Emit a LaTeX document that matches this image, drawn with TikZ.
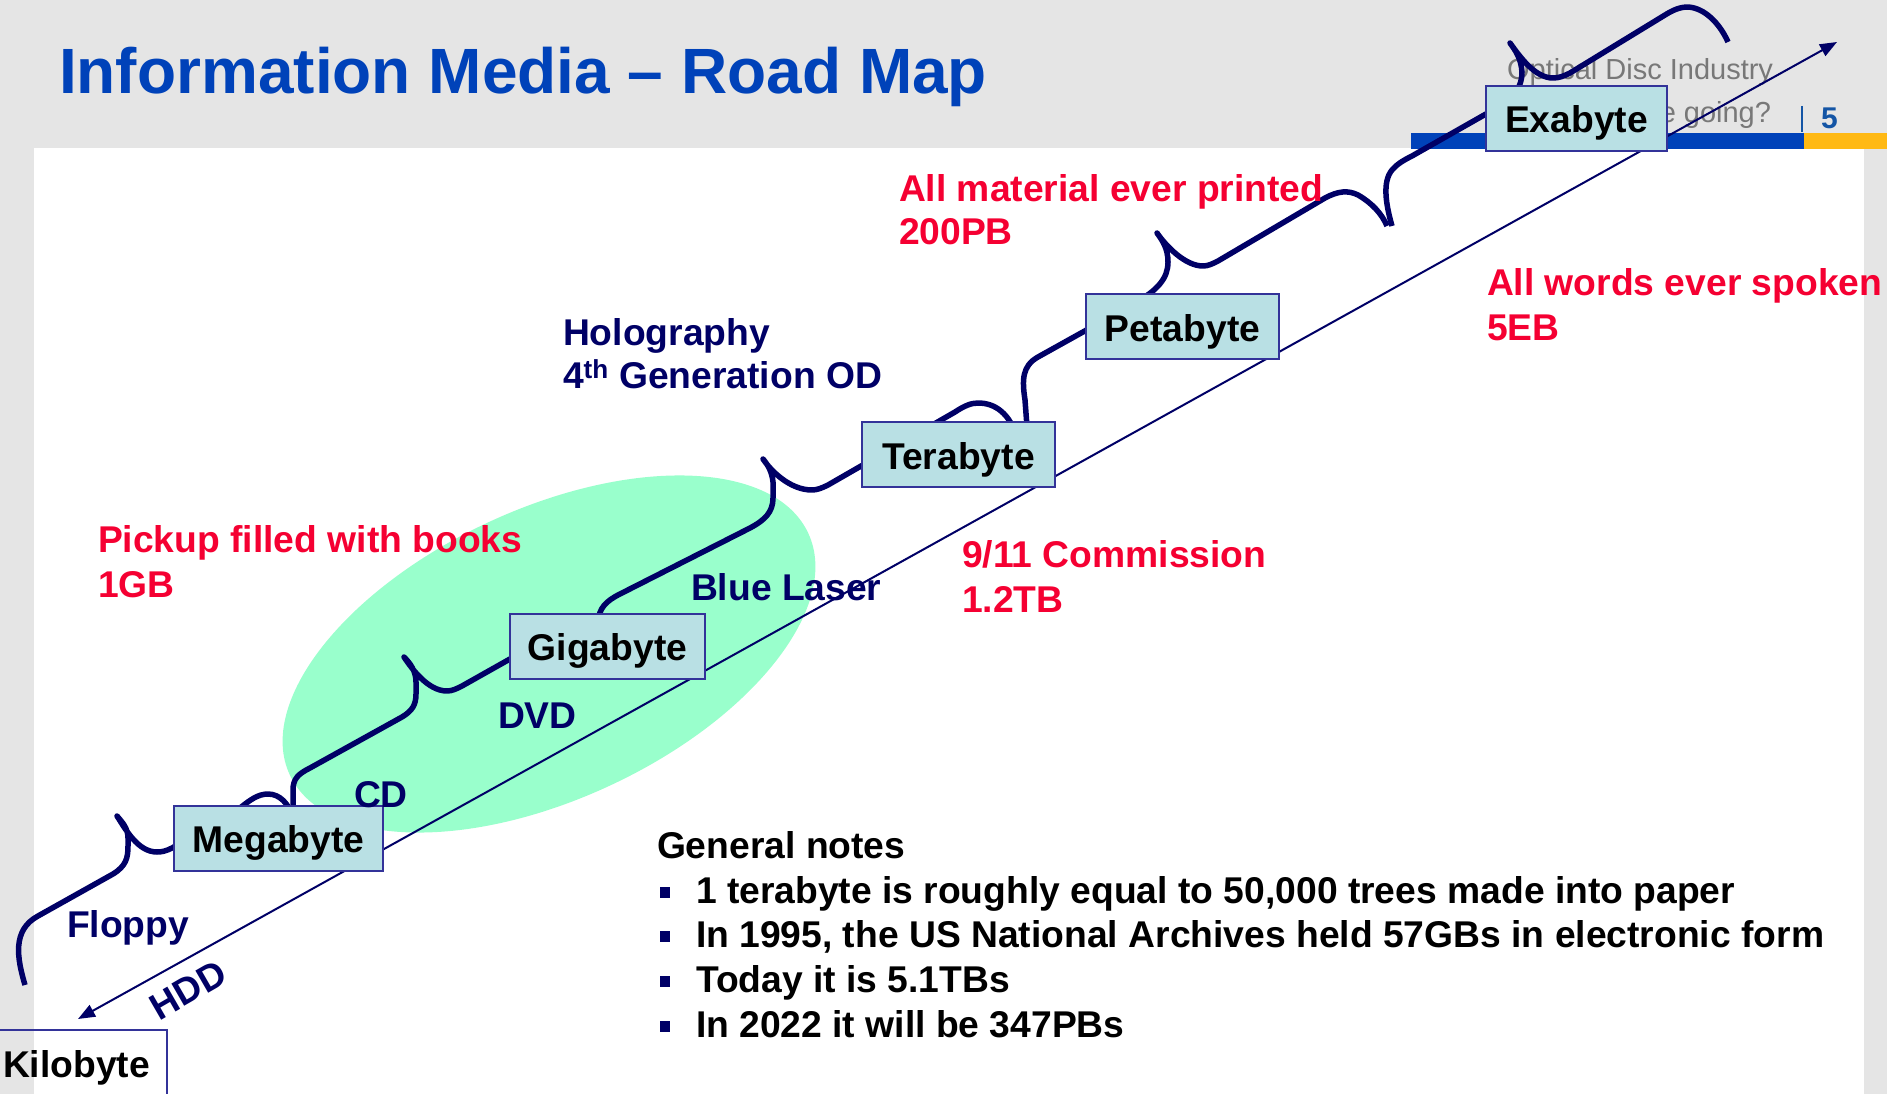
\documentclass[tikz,border=0pt]{standalone}
\usepackage{fontspec}
\setmainfont{Liberation Sans}
\usetikzlibrary{arrows.meta}
\definecolor{bggray}{RGB}{229,229,229}
\definecolor{titleblue}{RGB}{0,66,185}
\definecolor{baryellow}{RGB}{255,185,20}
\definecolor{navy}{RGB}{0,0,102}
\definecolor{boxfill}{RGB}{185,224,228}
\definecolor{boxline}{RGB}{51,51,153}
\definecolor{mint}{RGB}{153,255,204}
\definecolor{hred}{RGB}{245,0,50}
\definecolor{hgray}{RGB}{120,120,120}
\definecolor{pageblue}{RGB}{20,85,165}
\begin{document}
\begin{tikzpicture}[x=1pt,y=-1pt,
  every node/.style={inner sep=0pt,outer sep=0pt},
  bodyfont/.style={font=\fontsize{37.25}{44}\selectfont\bfseries},
  mediabox/.style={draw=boxline,line width=2pt,fill=boxfill,minimum height=65pt,
    text height=29pt,text depth=0pt,bodyfont,text=black},
  navylabel/.style={anchor=base west,bodyfont,text=navy},
  redlabel/.style={anchor=base west,bodyfont,text=hred},
  notetext/.style={anchor=base west,bodyfont,text=black},
  bulletsq/.style={fill=navy,minimum width=10pt,minimum height=11pt},
  bracepath/.style={draw=navy,line width=5.5pt,line join=round},
  thinarrow/.style={draw=navy,line width=2pt,
    {Triangle[length=17pt,width=13pt]}-{Triangle[length=17pt,width=13pt]}}
]
\useasboundingbox (0,0) rectangle (1887,1094);
\clip (0,0) rectangle (1887,1094);
% background
\fill[bggray] (0,0) rectangle (1887,1094);
\fill[white] (34,148) rectangle (1864,1094);
\fill[titleblue] (1411,133) rectangle (1804,149);
\fill[baryellow] (1804,133) rectangle (1887,149);
% header texts
\node[anchor=base west,font=\fontsize{64}{70}\selectfont\bfseries,text=titleblue]
  (title) at (59,94) {Information Media – Road Map};
\node[anchor=base east,font=\fontsize{29}{34}\selectfont,text=hgray]
  (hdrA) at (1773,80) {Optical Disc Industry};
\node[anchor=base east,font=\fontsize{29}{34}\selectfont,text=hgray]
  (hdrB) at (1771,123) {e going?};
\draw[pageblue,line width=2pt] (1802,106) -- (1802,132);
\node[anchor=base west,font=\fontsize{30}{34}\selectfont\bfseries,text=pageblue]
  (pagenum) at (1821,129) {5};
% mint ellipse
\fill[mint,rotate around={25:(549,654)}] (549,654) ellipse [x radius=286,y radius=145];
% thin HDD arrow
\coordinate (lowend) at (78,1019);
\coordinate (highend) at (1837,42);
\draw[thinarrow] (lowend) -- (highend);
% braces
\draw[bracepath] (25,985) .. controls (17,958) and (12,930) .. (38,916)
  -- (113,874) .. controls (126,866) and (128,858) .. (128,846)
  -- (128,838) .. controls (128,828) and (122,822) .. (117,816)
  .. controls (126,830) and (138,852) .. (157,852)
  .. controls (162,852) and (166,851) .. (172,848)
  -- (240,808) .. controls (250,800) and (258,794) .. (268,794)
  .. controls (280,794) and (289,804) .. (293,818);
\draw[bracepath] (293,818) -- (293,790)
  .. controls (293,779) and (298,774) .. (310,768)
  -- (402,717) .. controls (412,711) and (416,705) .. (416,694)
  -- (416,682) .. controls (416,671) and (410,663) .. (404,657)
  .. controls (412,669) and (428,691) .. (447,691)
  .. controls (452,691) and (456,689) .. (462,686)
  -- (565,628) .. controls (580,620) and (590,624) .. (596,640);
\draw[bracepath] (598,640) -- (598,622)
  .. controls (599,608) and (606,601) .. (620,594)
  -- (750,528) .. controls (765,520) and (773,512) .. (773,498)
  -- (773,482) .. controls (772,472) and (768,465) .. (763,459)
  .. controls (771,471) and (790,490) .. (812,490)
  .. controls (817,490) and (822,488) .. (828,485)
  -- (955,412) .. controls (964,406) and (971,403) .. (978,403)
  .. controls (995,403) and (1010,413) .. (1018,440);
\draw[bracepath] (1028,440) -- (1025,400)
  .. controls (1022,380) and (1022,366) .. (1038,357)
  -- (1135,303) .. controls (1158,290) and (1168,278) .. (1168,262)
  .. controls (1168,248) and (1162,240) .. (1157,233)
  .. controls (1166,246) and (1185,266) .. (1203,266)
  .. controls (1208,266) and (1212,264) .. (1218,261)
  -- (1325,198) .. controls (1338,191) and (1348,190) .. (1358,195)
  .. controls (1372,203) and (1382,214) .. (1387,226);
\draw[bracepath] (1392,226) .. controls (1386,205) and (1382,182) .. (1392,170)
  .. controls (1397,164) and (1404,160) .. (1412,156)
  -- (1500,106) .. controls (1515,97) and (1522,86) .. (1522,72)
  .. controls (1521,58) and (1515,50) .. (1510,43)
  .. controls (1520,57) and (1535,78) .. (1553,78)
  .. controls (1559,78) and (1564,76) .. (1570,73)
  -- (1665,15) .. controls (1673,10) and (1680,7) .. (1688,7)
  .. controls (1705,8) and (1720,24) .. (1728,42);
% boxes
\node[mediabox,fill=none,minimum width=181pt] (kilo) at (76.5,1062.5) {Kilobyte};
\node[mediabox,minimum width=209pt] (mega) at (278.5,838) {Megabyte};
\node[mediabox,minimum width=195pt] (giga) at (607.5,646) {Gigabyte};
\node[mediabox,minimum width=193pt] (tera) at (958.5,454.5) {Terabyte};
\node[mediabox,minimum width=193pt] (peta) at (1182.5,326.5) {Petabyte};
\node[mediabox,minimum width=181pt] (exa) at (1576.5,118.5) {Exabyte};
% navy labels
\node[navylabel] (floppy) at (67,937) {Floppy};
\node[navylabel] (cd) at (354,807) {CD};
\node[navylabel] (dvd) at (498,728) {DVD};
\node[navylabel] (blue) at (691,600) {Blue Laser};
\node[navylabel] (holo) at (563,345) {Holography};
\node[navylabel] (fourth) at (563,388) {4\textsuperscript{th} Generation OD};
\node[bodyfont,text=navy,rotate=30] (hdd) at (188,990) {HDD};
% red labels
\node[redlabel] (pickA) at (98,552) {Pickup filled with books};
\node[redlabel] (pickB) at (98,597) {1GB};
\node[redlabel] (commA) at (962,567) {9/11 Commission};
\node[redlabel] (commB) at (962,612) {1.2TB};
\node[redlabel] (printA) at (899,202) {All material ever printed};
\node[redlabel] (printB) at (899,244) {200PB};
\node[redlabel] (wordsA) at (1487,295) {All words ever spoken};
\node[redlabel] (wordsB) at (1487,340) {5EB};
% general notes
\node[notetext] (notehead) at (657,858) {General notes};
\node[bulletsq] (b1) at (665,892) {};
\node[bulletsq] (b2) at (665,936) {};
\node[bulletsq] (b3) at (665,981) {};
\node[bulletsq] (b4) at (665,1026) {};
\node[notetext] (n1) at (696,903) {1 terabyte is roughly equal to 50,000 trees made into paper};
\node[notetext] (n2) at (696,947) {In 1995, the US National Archives held 57GBs in electronic form};
\node[notetext] (n3) at (696,992) {Today it is 5.1TBs};
\node[notetext] (n4) at (696,1037) {In 2022 it will be 347PBs};
\end{tikzpicture}
\end{document}
